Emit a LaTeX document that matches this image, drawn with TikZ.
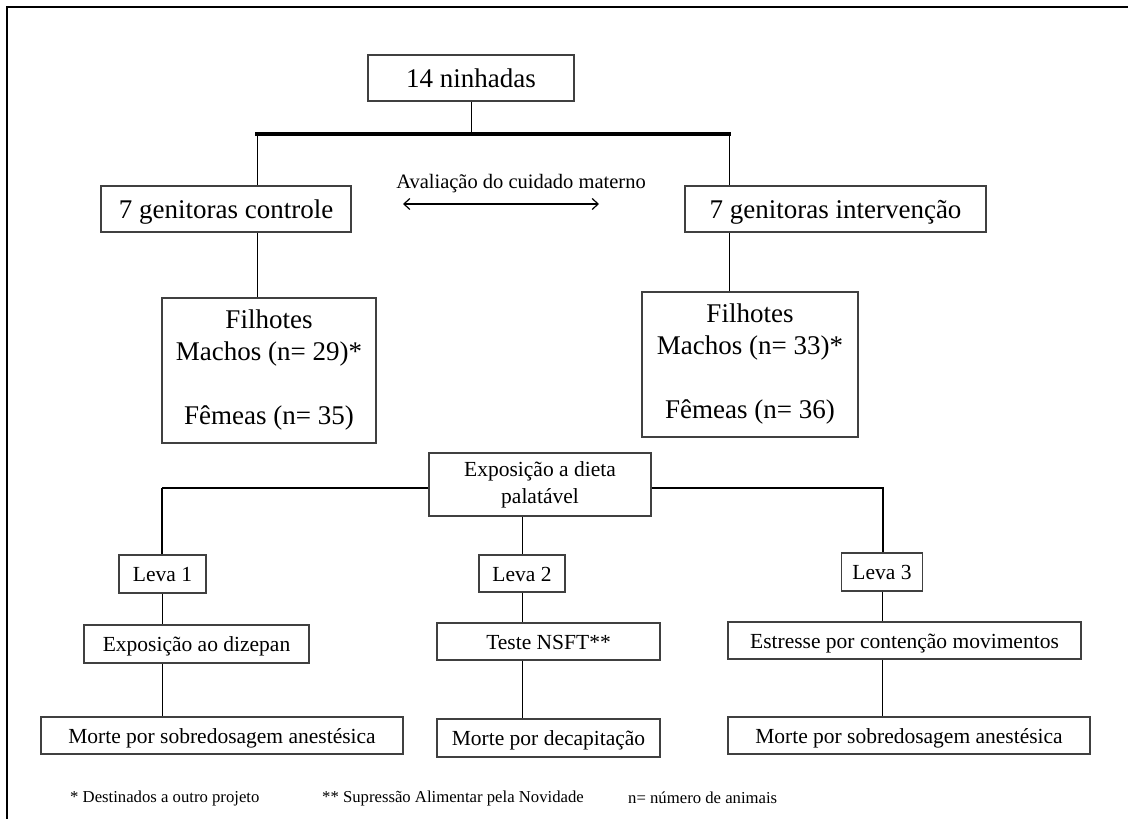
\documentclass[tikz,border=0pt]{standalone}
\usepackage{fontspec}
\setmainfont{Liberation Serif}
\usetikzlibrary{arrows.meta}
\begin{document}
\begin{tikzpicture}[x=1pt,y=-1pt,
  box/.style={draw=black!75, line width=1.3pt, inner sep=0pt, align=center, text=black},
  big/.style={font=\fontsize{27}{32}\selectfont},
  mid/.style={font=\fontsize{21.5}{27}\selectfont},
  bigone/.style={big, text height=18.5pt, text depth=0pt},
  midone/.style={mid, text height=15pt, text depth=0pt},
  note/.style={font=\fontsize{16.7}{20}\selectfont, inner sep=0pt, anchor=west},
  conn/.style={line width=1pt, draw=black}
]
\useasboundingbox (0,0) rectangle (1128,819);
\fill[white] (0,0) rectangle (1128,819);
% frame
\draw[line width=2.5pt] (7,819) -- (7,7) -- (1128,7);

% top level
\node[box,bigone,minimum width=206pt,minimum height=46pt] (n14) at (471,78) {14 ninhadas};
\node[box,bigone,minimum width=250pt,minimum height=46pt] (gc) at (226,209) {7 genitoras controle};
\node[box,bigone,minimum width=301pt,minimum height=46pt] (gi) at (835.5,209) {7 genitoras intervenção};
\node[box,big,minimum width=214pt,minimum height=145pt] (fl) at (269,370.5)
  {Filhotes\\Machos (n= 29)*\\[32pt]Fêmeas (n= 35)};
\node[box,big,minimum width=216pt,minimum height=145pt] (fr) at (750,364.5)
  {Filhotes\\Machos (n= 33)*\\[32pt]Fêmeas (n= 36)};

\coordinate (bl) at (257,134);
\coordinate (br) at (729,134);
\draw[line width=4pt, line cap=rect] (bl) -- (br);
\draw[conn] (n14.south) -- (n14.south |- bl);
\draw[conn] (bl) -- (bl |- gc.north);
\draw[conn] (br) -- (br |- gi.north);
\draw[conn] (gc.south -| bl) -- (fl.north -| bl);
\draw[conn] (gi.south -| br) -- (fr.north -| br);

% maternal care arrow
\node[font=\fontsize{20.5}{24}\selectfont, inner sep=0pt] (av) at (521,184) {Avaliação do cuidado materno};
\coordinate (a1) at (403,204);
\coordinate (a2) at (599,204);
\draw[line width=1.2pt, {Straight Barb[length=6pt,width=11pt]}-{Straight Barb[length=6pt,width=11pt]}] (a1) -- (a2);

% diet exposure
\node[box,mid,minimum width=222pt,minimum height=63pt] (exp) at (540,484.5)
  {Exposição a dieta\\palatável};
\node[box,midone,minimum width=87pt,minimum height=38pt] (L1) at (162.5,574) {Leva 1};
\node[box,midone,minimum width=86pt,minimum height=37pt] (L2) at (522,573.5) {Leva 2};
\node[box,midone,minimum width=81pt,minimum height=38pt] (L3) at (882,572) {Leva 3};

\coordinate (hl) at (162,488);
\coordinate (hr) at (883,488);
\draw[line width=1.5pt] (hl -| exp.west) -- (hl);
\draw[line width=2pt] (hl) -- (hl |- L1.north);
\draw[line width=1.5pt] (hr -| exp.east) -- (hr) -- (hr |- L3.north);
\draw[conn] (exp.south -| L2.north) -- (L2.north);

\node[box,midone,minimum width=225pt,minimum height=38pt] (dz) at (196.5,644) {Exposição ao dizepan};
\node[box,midone,minimum width=223pt,minimum height=37pt] (ns) at (548.5,641.5) {Teste NSFT**};
\node[box,midone,minimum width=353pt,minimum height=37pt] (es) at (904.5,640.5) {Estresse por contenção movimentos};

\node[box,midone,minimum width=362pt,minimum height=37pt] (m1) at (222,735.5) {Morte por sobredosagem anestésica};
\node[box,midone,minimum width=223pt,minimum height=38pt] (m2) at (548.5,738) {Morte por decapitação};
\node[box,midone,minimum width=362pt,minimum height=37pt] (m3) at (909,735.5) {Morte por sobredosagem anestésica};

\draw[conn] (L1.south) -- (L1.south |- dz.north);
\draw[conn] (dz.south -| L1.south) -- (m1.north -| L1.south);
\draw[conn] (L2.south) -- (L2.south |- ns.north);
\draw[conn] (ns.south -| L2.south) -- (m2.north -| L2.south);
\draw[conn] (L3.south) -- (L3.south |- es.north);
\draw[conn] (es.south -| L3.south) -- (m3.north -| L3.south);

% footnotes
\node[note] (f1) at (70,798) {* Destinados a outro projeto};
\node[note] (f2) at (322,798) {** Supressão Alimentar pela Novidade};
\node[note] (f3) at (628,798) {n= número de animais};
\end{tikzpicture}
\end{document}
